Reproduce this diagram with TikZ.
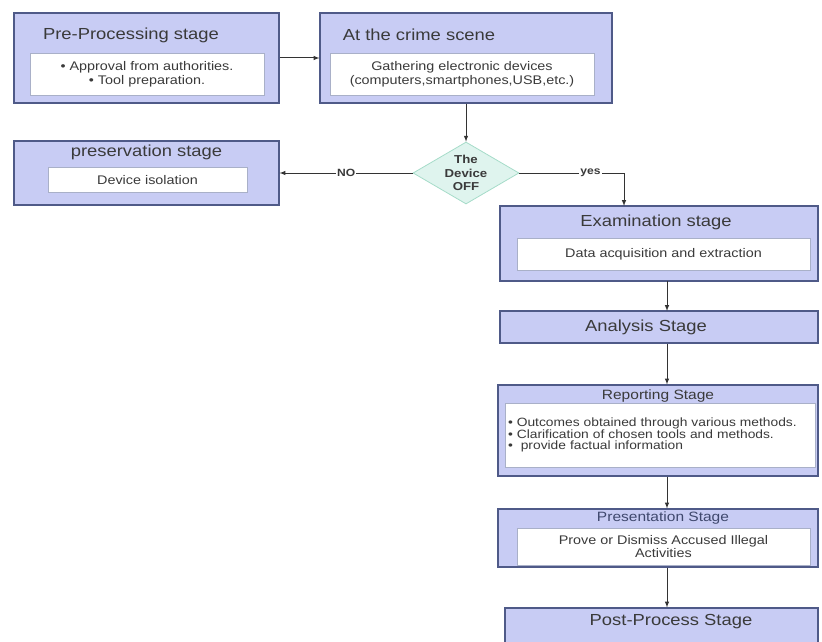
\documentclass[tikz,border=0pt]{standalone}
\usepackage{fontspec}
\setmainfont{Liberation Sans}[FakeStretch=1.15]
\usepackage{tikz}
\usetikzlibrary{shapes.geometric}
\usetikzlibrary{positioning}
\usepackage{xcolor}
\definecolor{boxfill}{HTML}{C8CCF4}
\definecolor{boxline}{HTML}{4F5A88}
\definecolor{inline}{HTML}{A9B0C8}
\definecolor{diafill}{HTML}{DFF4EE}
\definecolor{dialine}{HTML}{A6DCC9}
\definecolor{txt}{HTML}{3A3A3A}
\definecolor{wire}{HTML}{333333}

\begin{document}
\begin{tikzpicture}[x=1pt,y=-1pt,>=latex,
  stagebox/.style={draw=boxline,fill=boxfill,line width=1.2pt,inner sep=0pt},
  inbox/.style={draw=inline,fill=white,line width=0.6pt,inner sep=0pt,align=center,
    text=txt,font=\fontsize{12.5}{14}\selectfont},
  title/.style={text=txt,inner sep=0pt,font=\fontsize{16}{18}\selectfont},
  smalltitle/.style={text=txt,inner sep=0pt,font=\fontsize{13.5}{15}\selectfont},
  decision/.style={diamond,aspect=1.7,draw=dialine,fill=diafill,line width=0.8pt,
    inner sep=0pt,minimum width=106,minimum height=62,align=center,text=txt,
    font=\bfseries\fontsize{11.5}{13.5}\selectfont},
  lbl/.style={fill=white,inner sep=1pt,text=txt,font=\bfseries\fontsize{10.5}{12}\selectfont},
  wire/.style={->,draw=wire,line width=1pt}]
\useasboundingbox (0,0) rectangle (822,642);
\clip (0,0) rectangle (822,642);

\node[stagebox,minimum width=265,minimum height=90] (pre) at (146.5,58) {};
\node[title] (pretitle) at (131,35) {Pre-Processing stage};
\node[inbox,minimum width=234,minimum height=42] (pretxt) at (147,74)
  {\textbullet{} Approval from authorities.\\ \textbullet{} Tool preparation.};

\node[stagebox,minimum width=292,minimum height=90] (scene) at (466,58) {};
\node[title] (scenetitle) at (419,35) {At the crime scene};
\node[inbox,minimum width=264,minimum height=42] (scenetxt) at (462,74)
  {Gathering electronic devices\\(computers,smartphones,USB,etc.)};

\node[stagebox,minimum width=265,minimum height=64] (keep) at (146.5,173) {};
\node[title] (keeptitle) at (146.5,152) {preservation stage};
\node[inbox,minimum width=199,minimum height=25] (keeptxt) at (147.5,180) {Device isolation};

\node[decision] (off) at (466,173) {The\\Device\\OFF};

\node[stagebox,minimum width=318,minimum height=75] (exam) at (659,243.5) {};
\node[title] (examtitle) at (656,222) {Examination stage};
\node[inbox,minimum width=293,minimum height=32] (examtxt) at (663.5,254)
  {Data acquisition and extraction};

\node[stagebox,minimum width=318,minimum height=32] (ana) at (659,327) {};
\node[title] (anatitle) at (646,327) {Analysis Stage};

\node[stagebox,minimum width=320,minimum height=91] (rep) at (658,430.5) {};
\node[smalltitle] (reptitle) at (658,396) {Reporting Stage};
\node[inbox,minimum width=310,minimum height=64,text width=304,align=left,
  font=\fontsize{12}{11.5}\selectfont] (reptxt) at (660,435)
  {\textbullet{} Outcomes obtained through various methods.\\
   \textbullet{} Clarification of chosen tools and methods.\\
   \textbullet{}\ \ provide factual information};

\node[stagebox,minimum width=320,minimum height=58] (show) at (658,538) {};
\node[smalltitle,text=boxline!80!black] (showtitle) at (663,518) {Presentation Stage};
\node[inbox,minimum width=293,minimum height=37,font=\fontsize{12.5}{13}\selectfont]
  (showtxt) at (663.5,546.5) {Prove or Dismiss Accused Illegal\\Activities};

\node[stagebox,minimum width=313,minimum height=52] (post) at (661.5,634) {};
\node[title] (posttitle) at (671,622) {Post-Process Stage};

\coordinate (yesin) at (624,206);
\coordinate (examtop) at (667,206);
\coordinate (exambot) at (667,281);
\coordinate (anatop) at (667,311);

\draw[wire] (pre.east) -- (scene.west);
\draw[wire] (scene.south) -- (off.north);
\draw[wire] (off.west) -- node[lbl]{NO} (keep.east);
\draw[wire] (off.east) -| node[lbl,pos=0.34]{yes} (yesin);
\draw[wire] (exambot) -- (anatop);
\draw[wire] (ana.south -| anatop) -- (rep.north -| anatop);
\draw[wire] (rep.south -| anatop) -- (show.north -| anatop);
\draw[wire] (show.south -| anatop) -- (post.north -| anatop);
\end{tikzpicture}
\end{document}
